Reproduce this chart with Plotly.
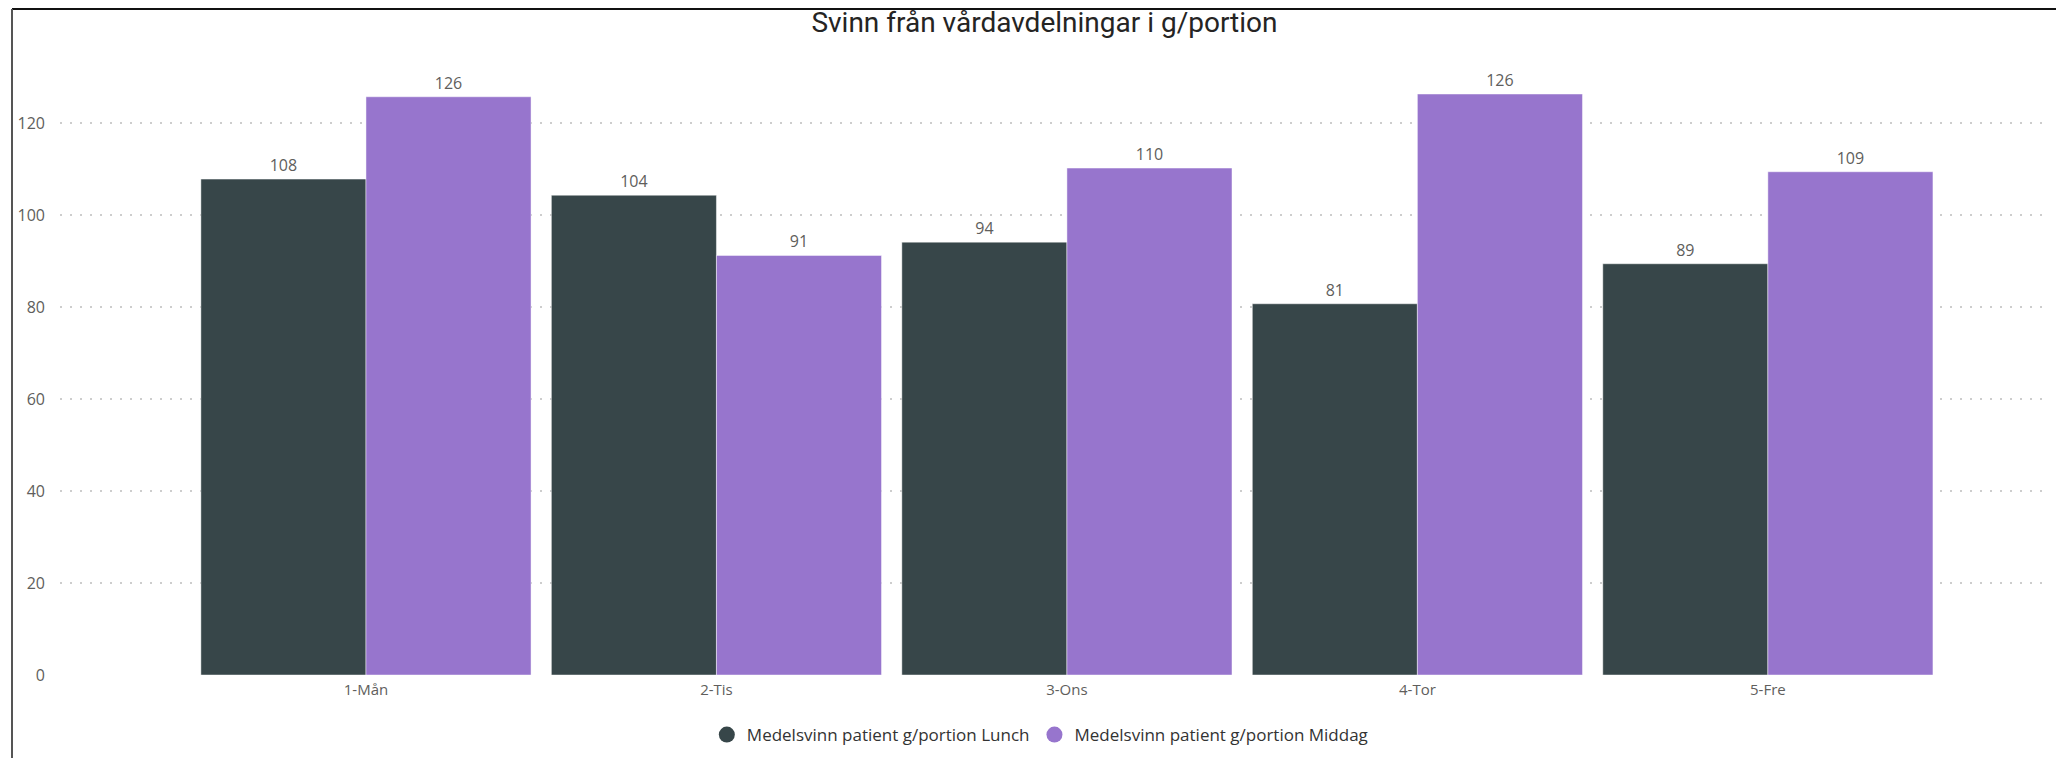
import plotly.graph_objects as go

# ---- data ----
categories = ["1-Mån", "2-Tis", "3-Ons", "4-Tor", "5-Fre"]
lunch = [107.8, 104.3, 94.1, 80.7, 89.4]
middag = [125.7, 91.2, 110.2, 126.3, 109.4]
series_names = ["Medelsvinn patient g/portion Lunch", "Medelsvinn patient g/portion Middag"]
y_ticks = [0, 20, 40, 60, 80, 100, 120]
title_text = "Svinn från vårdavdelningar i g/portion"

C_LUNCH = "#374649"
C_MIDDAG = "#9775CD"
TXT = "#605E5C"
FONT = "Open Sans, Segoe UI, sans-serif"

W, H = 2056, 758
L, R, T, B = 60, 6, 31, 83
plot_w = W - L - R
plot_h = H - T - B

fig = go.Figure()
for name, vals, col in [(series_names[0], lunch, C_LUNCH), (series_names[1], middag, C_MIDDAG)]:
    fig.add_trace(go.Bar(
        x=categories, y=vals, name=name, showlegend=False,
        marker=dict(color=col, line=dict(color="rgba(255,255,255,0.45)", width=1)),
        text=[f"{v:.0f}" for v in vals], textposition="outside",
        textfont=dict(family=FONT, size=16, color=TXT),
        cliponaxis=False,
    ))
    # legend entry with round symbol
    fig.add_trace(go.Scatter(
        x=[None], y=[None], mode="markers", name=name,
        marker=dict(symbol="circle", size=16, color=col),
    ))

fig.update_layout(
    width=W, height=H,
    margin=dict(l=L, r=R, t=T, b=B, autoexpand=False),
    paper_bgcolor="white", plot_bgcolor="white",
    barmode="group", bargap=0.058, bargroupgap=0,
    title=dict(text=title_text, x=0.508, xanchor="center", y=1 - 22 / H, yanchor="middle",
               yref="container", font=dict(family="Roboto, DejaVu Sans, sans-serif", size=28, color="#252423")),
    legend=dict(orientation="h", xref="container", yref="container", x=0.506, xanchor="center",
                y=1 - 735 / H, yanchor="middle",
                font=dict(family=FONT, size=17, color="#333333"), itemwidth=30,
                tracegroupgap=0, bgcolor="rgba(0,0,0,0)"),
    font=dict(family=FONT, color=TXT),
)

fig.update_xaxes(
    type="category", range=[-0.873, 4.805], showgrid=False, showline=False, zeroline=False,
    ticks="", tickfont=dict(family=FONT, size=15, color=TXT), ticklabelstandoff=4, automargin=False,
)
fig.update_yaxes(
    range=[0, 140], tickvals=y_ticks, showgrid=True, gridcolor="#CDCDCD", gridwidth=2,
    griddash="2px,8px", zeroline=False, showline=False, ticks="",
    tickfont=dict(family=FONT, size=16, color=TXT), ticklabelstandoff=14, automargin=False,
)

# outer frame (left + top edges)
x_left = (12 - L) / plot_w
y_top = (H - B - 9) / plot_h
fig.add_shape(type="line", xref="paper", yref="paper", x0=x_left, x1=(W - L) / plot_w + 0.01,
              y0=y_top, y1=y_top, line=dict(color="#111111", width=2))
fig.add_shape(type="line", xref="paper", yref="paper", x0=x_left, x1=x_left,
              y0=y_top, y1=-(B + 5) / plot_h, line=dict(color="#555555", width=2))

fig.write_html(
    "out.html",
    config={"displayModeBar": False},
    post_script="document.body.style.margin='0';document.body.style.overflow='hidden';",
)
